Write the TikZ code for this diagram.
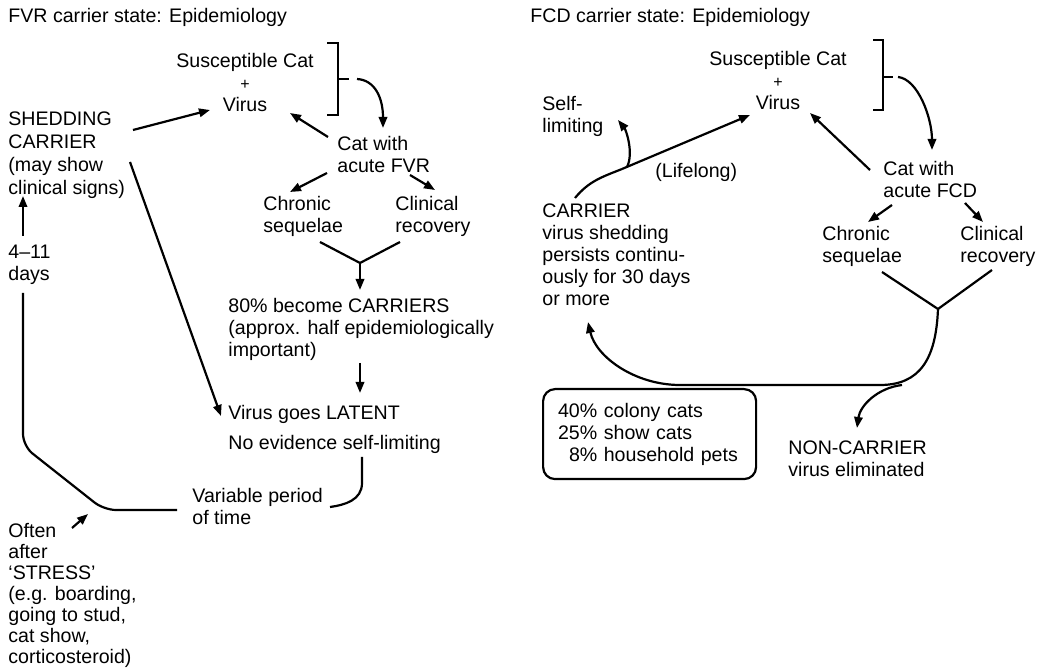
\documentclass[tikz,border=0pt]{standalone}
\usepackage{fontspec}
\setmainfont{Liberation Sans}
\usetikzlibrary{arrows.meta,calc}
\newcommand{\lbfont}{\fontsize{9.8pt}{11pt}\selectfont}
\newcommand{\lbwide}{\fontsize{9.8pt}{11.5pt}\selectfont}
\newcommand{\lbtight}{\fontsize{9.8pt}{10.5pt}\selectfont}
\newcommand{\pl}{{\fontsize{8pt}{11pt}\selectfont +}}
\tikzset{
  ln/.style={line width=1.1pt,black},
  ar/.style={ln,-{Triangle[length=5.5pt,width=4.2pt]}},
  lbl/.style={inner sep=0pt,align=left,font=\lbfont,anchor=north west},
  cbox/.style={draw,line width=1.1pt,rounded corners=6pt,anchor=north west,font=\lbfont,
    text width=91.5pt,inner xsep=7.5pt,inner ysep=0pt,minimum height=45pt,align=left}
}
\begin{document}
\begin{tikzpicture}[x=0.5pt,y=-0.5pt]
\fill[white] (0,0) rectangle (1041,668);
\useasboundingbox (0,0) rectangle (1041,668);
% FVR side
\node[lbl] (titleL) at (8,8) {FVR carrier state: Epidemiology};
\node[lbl,anchor=north,align=center] (suscL) at (245,53) {Susceptible Cat\\\pl\\Virus};
\node[lbl] (catL) at (337,136) {Cat with\\acute FVR};
\node[lbl,font=\lbwide] (shedL) at (8,111) {SHEDDING\\CARRIER\\(may show\\clinical signs)};
\node[lbl] (chronL) at (263,196) {Chronic\\sequelae};
\node[lbl] (clinL) at (395,196) {Clinical\\recovery};
\node[lbl] (carrL) at (228,298) {80\% become CARRIERS\\(approx. half epidemiologically\\important)};
\node[lbl] (latL) at (228,405) {Virus goes LATENT};
\node[lbl] (noevL) at (228,435) {No evidence self-limiting};
\node[lbl] (daysL) at (8,245) {4–11\\days};
\node[lbl] (varL) at (192,488) {Variable period\\of time};
\node[lbl,font=\lbtight] (stressL) at (8,523) {Often\\after\\‘STRESS’\\(e.g. boarding,\\going to stud,\\cat show,\\corticosteroid)};
\coordinate (brL) at ([shift={(93,26)}]suscL.north);
\draw[ln] ([shift={(-11,-36)}]brL) -- ++(11,0) -- ++(0,72) -- ++(-11,0);
\draw[ln] (brL) -- ++(11,0);
\draw[ar] ([shift={(19,0)}]brL) .. controls +(18,1) and +(0,-30) .. ([shift={(46,-8)}]catL.north west);
\draw[ar] ([shift={(125,19)}]shedL.north west) -- ([shift={(-35,57)}]suscL.north);
\draw[ar] ([shift={(-9,1)}]catL.north west) -- ([shift={(45,60)}]suscL.north);
\draw[ar] ([shift={(-10,37)}]catL.north west) -- ([shift={(27,-4)}]chronL.north west);
\draw[ar] ([shift={(73,39)}]catL.north west) -- ([shift={(40,-6)}]clinL.north west);
\coordinate (yL) at ([shift={(97,67)}]chronL.north west);
\draw[ln] ([shift={(57,46)}]chronL.north west) -- (yL) -- ([shift={(5,46)}]clinL.north west);
\draw[ar] (yL) -- ([shift={(132,-8)}]carrL.north west);
\draw[ar] ([shift={(132,65)}]carrL.north west) -- ([shift={(132,-12)}]latL.north west);
\draw[ar] ([shift={(122,51)}]shedL.north west) -- ([shift={(-7,11)}]latL.north west);
\draw[ar] ([shift={(15,-9)}]daysL.north west) -- ([shift={(15,85)}]shedL.north west);
\draw[ln,rounded corners=6pt] ([shift={(15,48)}]daysL.north west) -- ++(0,153) -- ++(81,64) -- ([shift={(-15,22)}]varL.north west);
\draw[ar] ([shift={(64,5)}]stressL.north west) -- ([shift={(80,-9)}]stressL.north west);
\draw[ln] ([shift={(134,22)}]noevL.north west) -- ++(0,26) .. controls +(0,17) and +(15,-2) .. ([shift={(138,19)}]varL.north west);
% FCD side
\node[lbl] (titleR) at (530,8) {FCD carrier state: Epidemiology};
\node[lbl,anchor=north,align=center] (suscR) at (778,51) {Susceptible Cat\\\pl\\Virus};
\node[lbl] (catR) at (883,161) {Cat with\\acute FCD};
\node[lbl] (chronR) at (822,226) {Chronic\\sequelae};
\node[lbl] (clinR) at (960,226) {Clinical\\recovery};
\node[lbl] (selfR) at (542,96) {Self-\\limiting};
\node[lbl] (carrR) at (542,203) {CARRIER\\virus shedding\\persists continu-\\ously for 30 days\\or more};
\node[lbl] (lifeR) at (655,163) {(Lifelong)};
\node[cbox] (boxR) at (542,388) {40\% colony cats\\25\% show cats\\\phantom{4}8\% household pets};
\node[lbl] (ncR) at (788,440) {NON-CARRIER\\virus eliminated};
\coordinate (brR) at ([shift={(105,26)}]suscR.north);
\draw[ln] ([shift={(-10,-37)}]brR) -- ++(10,0) -- ++(0,70) -- ++(-10,0);
\draw[ln] (brR) -- ++(10,0);
\draw[ar] ([shift={(15,0)}]brR) .. controls +(20,2) and +(0,-32) .. ([shift={(49,-11)}]catR.north west);
\draw[ar] ([shift={(-13,9)}]catR.north west) -- ([shift={(32,62)}]suscR.north);
\draw[ar] ([shift={(9,44)}]catR.north west) -- ([shift={(46,-4)}]chronR.north west);
\draw[ar] ([shift={(82,42)}]catR.north west) -- ([shift={(23,-4)}]clinR.north west);
\coordinate (yR) at ([shift={(116,83)}]chronR.north west);
\draw[ln] ([shift={(60,46)}]chronR.north west) -- (yR) -- ([shift={(32,44)}]clinR.north west);
\coordinate (jR) at ([shift={(80,-34)}]carrR.north west);
\draw[ln] ([shift={(33,-5)}]carrR.north west) .. controls +(14,-17) and +(-20,8) .. (jR);
\draw[ar] (jR) -- ([shift={(-28,64)}]suscR.north);
\draw[ar] ([shift={(5,-2)}]jR) .. controls +(7,-14) and +(8,10) .. ([shift={(76,24)}]selfR.north west);
\draw[ar] (yR) .. controls +(-2,50) and +(40,0) .. ++(-58,76) -- ++(-200,0) .. controls +(-45,0) and +(8,35) .. ([shift={(46,119)}]carrR.north west);
\draw[ar] ([shift={(-36,76)}]yR) .. controls +(-25,3) and +(3,-22) .. ([shift={(69,-12)}]ncR.north west);
\end{tikzpicture}
\end{document}
